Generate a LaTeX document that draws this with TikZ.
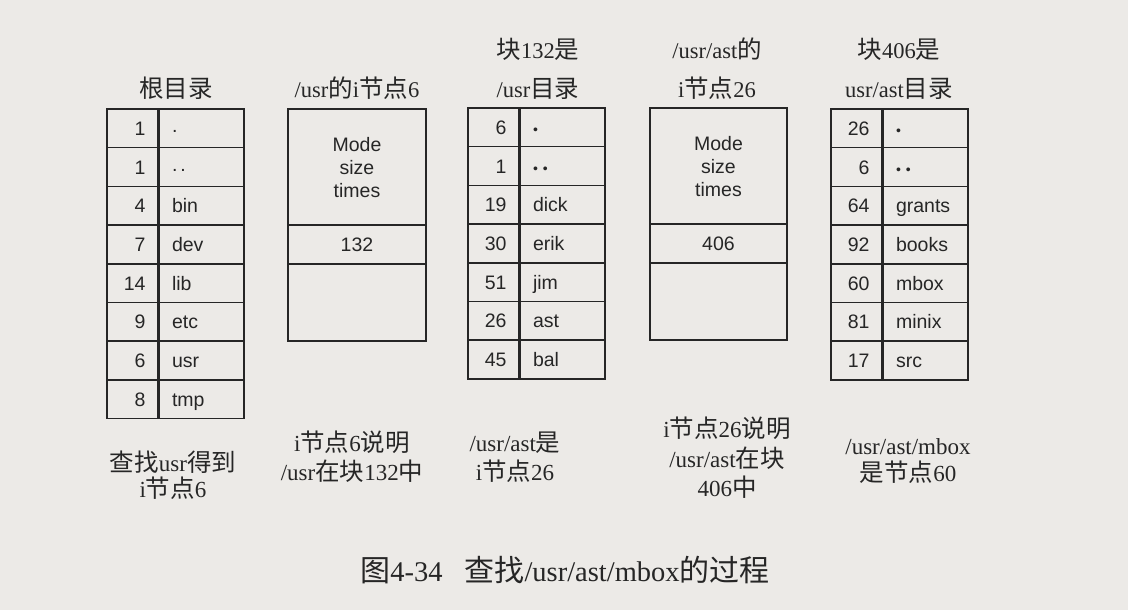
\documentclass[tikz,border=0pt]{standalone}
\usepackage{fontspec}
\setmainfont{Liberation Serif}
\newfontfamily\cjkfont{Noto Sans CJK SC}
\newfontfamily\tabfont{Liberation Sans}
\newcommand\zh[1]{{\cjkfont\fontsize{24.5}{28}\selectfont #1}}
\newcommand\zhc[1]{{\cjkfont\fontsize{30}{34}\selectfont #1}}
\newcommand\bul{{\fontsize{14}{14}\selectfont •}}
\newcommand\dotA{\raisebox{3pt}{.}}
\newcommand\dotB{\raisebox{3pt}{.\hspace{3pt}.}}
\newcommand\bulA{\bul}
\newcommand\bulB{\bul\hspace{5pt}\bul}
\definecolor{bg}{RGB}{236,234,231}
\definecolor{ink}{RGB}{38,38,38}
\tikzset{
  box/.style={draw=ink, line width=1.5pt, inner sep=0pt, text=ink,
    font=\tabfont\fontsize{19.5}{23}\selectfont},
  cell/.style={box, minimum height=38.7pt, text height=14pt, text depth=0pt},
  numcell/.style={cell, minimum width=52pt, text width=25pt, align=right},
  namecell/.style={cell, minimum width=86pt, text width=58pt, align=left},
  inode/.style={box, minimum width=138pt, align=center},
  title/.style={text=ink, align=center, inner sep=0pt, font=\fontsize{22.5}{39}\selectfont},
  note/.style={text=ink, align=center, inner sep=0pt, font=\fontsize{23}{#1}\selectfont},
  caption/.style={text=ink, inner sep=0pt, font=\fontsize{28.5}{32}\selectfont}
}
\begin{document}
\begin{tikzpicture}[x=1pt,y=-1pt]
\path[fill=bg,use as bounding box] (0,0) rectangle (1128,610);

% root directory
\foreach \n/\s [count=\i] in {1/\dotA,1/\dotB,4/bin,7/dev,14/lib,9/etc,6/usr,8/tmp}{
  \node[numcell] (ra-\i) at (133,{109+(\i-0.5)*38.7}) {\n};
  \node[namecell] (rb-\i) at (201,{109+(\i-0.5)*38.7}) {\s};
}
% /usr directory (block 132)
\foreach \n/\s [count=\i] in {6/\bulA,1/\bulB,19/dick,30/erik,51/jim,26/ast,45/bal}{
  \node[numcell] (ua-\i) at (494,{108+(\i-0.5)*38.7}) {\n};
  \node[namecell] (ub-\i) at (562,{108+(\i-0.5)*38.7}) {\s};
}
% /usr/ast directory (block 406)
\foreach \n/\s [count=\i] in {26/\bulA,6/\bulB,64/grants,92/books,60/mbox,81/minix,17/src}{
  \node[numcell] (aa-\i) at (857,{109+(\i-0.5)*38.7}) {\n};
  \node[namecell] (ab-\i) at (925,{109+(\i-0.5)*38.7}) {\s};
}

% i-node 6
\node[inode, minimum height=116.1pt] (i6a) at (357,{109+1.5*38.7}) {Mode\\size\\times};
\node[inode, cell, minimum width=138pt] (i6b) at (357,{109+3.5*38.7}) {132};
\node[inode, minimum height=77.4pt] (i6c) at (357,{109+5*38.7}) {};
% i-node 26
\node[inode, minimum width=137pt, minimum height=116.1pt] (i26a) at (718.5,{108+1.5*38.7}) {Mode\\size\\times};
\node[inode, cell, minimum width=137pt] (i26b) at (718.5,{108+3.5*38.7}) {406};
\node[inode, minimum width=137pt, minimum height=77.4pt] (i26c) at (718.5,{108+5*38.7}) {};

% titles
\node[title] (t1) at (176,88) {\zh{根目录}};
\node[title] (t2) at (357,88) {/usr\zh{的}i\zh{节点}6};
\node[title] (t3) at (538,68.5) {\zh{块}132\zh{是}\\/usr\zh{目录}};
\node[title] (t4) at (717,68.5) {/usr/ast\zh{的}\\i\zh{节点}26};
\node[title] (t5) at (899,68.5) {\zh{块}406\zh{是}\\usr/ast\zh{目录}};

% notes
\node[note=26pt] (n1) at (173,475) {\zh{查找}usr\zh{得到}\\i\zh{节点}6};
\node[note=29pt] (n2) at (352,457) {i\zh{节点}6\zh{说明}\\/usr\zh{在块}132\zh{中}};
\node[note=29pt] (n3) at (515,457) {/usr/ast\zh{是}\\i\zh{节点}26};
\node[note=29.5pt] (n4) at (727,458) {i\zh{节点}26\zh{说明}\\/usr/ast\zh{在块}\\406\zh{中}};
\node[note=27pt] (n5) at (908,461) {/usr/ast/mbox\\\zh{是节点}60};

% caption
\node[caption] (cap) at (565,570) {\zhc{图}4-34\hspace{22pt}\zhc{查找}/usr/ast/mbox\zhc{的过程}};
\end{tikzpicture}
\end{document}
